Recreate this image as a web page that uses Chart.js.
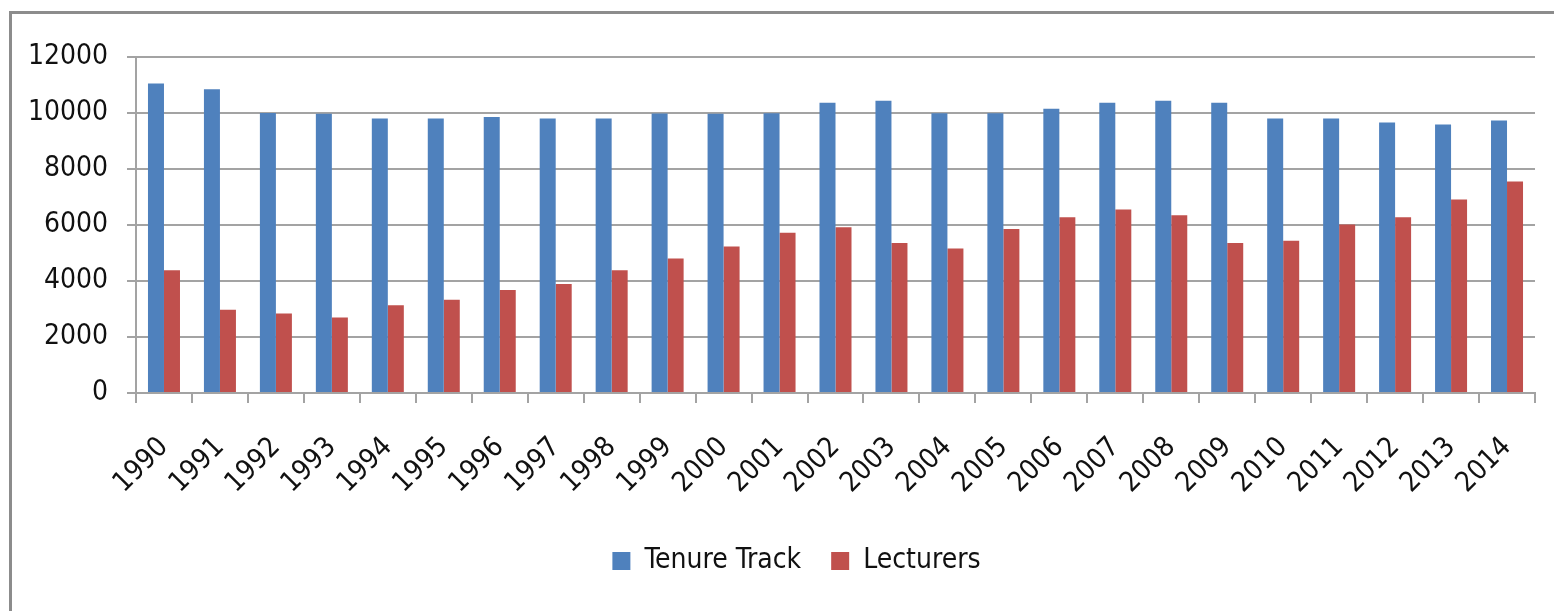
<!doctype html>
<html lang="en">
  <head>
    <meta charset="UTF-8" />
    <title>Tenure Track vs Lecturers</title>
    <style>
      html, body {
        margin: 0;
        padding: 0;
        background: #fff;
      }
      .frame {
        position: absolute;
        left: 9px;
        top: 11px;
        width: 1560px;
        height: 620px;
        border-left: 3px solid #8c8c8c;
        border-top: 3px solid #8c8c8c;
      }
      .wrap {
        position: absolute;
        left: 0;
        top: 0;
        width: 1554px;
        height: 611px;
      }
    </style>
  </head>
  <body>
    <div class="frame"></div>
    <div class="wrap">
      <canvas id="chart" width="1554" height="611"></canvas>
    </div>

    <script src="https://cdn.jsdelivr.net/npm/chart.js"></script>
    <script>
      const years = ['1990', '1991', '1992', '1993', '1994', '1995', '1996', '1997', '1998', '1999',
        '2000', '2001', '2002', '2003', '2004', '2005', '2006', '2007', '2008', '2009',
        '2010', '2011', '2012', '2013', '2014'];
      const tenureTrack = [11050, 10850, 10000, 9970, 9800, 9800, 9860, 9800, 9800, 9980,
        9970, 9990, 10370, 10440, 9990, 9990, 10150, 10370, 10440, 10370,
        9800, 9800, 9660, 9590, 9730];
      const lecturers = [4380, 2970, 2840, 2700, 3130, 3330, 3680, 3890, 4380, 4800,
        5230, 5720, 5920, 5360, 5160, 5860, 6280, 6550, 6350, 5360,
        5440, 6020, 6280, 6910, 7550];
      const yTicks = [0, 2000, 4000, 6000, 8000, 10000, 12000];

      const fontFamily = '"Liberation Sans Narrow", "DejaVu Sans Condensed", sans-serif';
      const gridColor = '#a3a3a3';

      // nudge the legend a bit right of the canvas centre, like the original
      const legendShift = {
        id: 'legendShift',
        afterLayout(chart) {
          chart.legend.left += 29;
          chart.legend.right += 29;
        },
      };

      const ctx = document.getElementById('chart').getContext('2d');
      new Chart(ctx, {
        type: 'bar',
        data: {
          labels: years,
          datasets: [
            {
              label: 'Tenure Track',
              data: tenureTrack,
              backgroundColor: '#4f81bd',
              categoryPercentage: 0.572,
              barPercentage: 1.0,
            },
            {
              label: 'Lecturers',
              data: lecturers,
              backgroundColor: '#c0504d',
              categoryPercentage: 0.572,
              barPercentage: 1.0,
            },
          ],
        },
        plugins: [legendShift],
        options: {
          responsive: false,
          animation: false,
          layout: {
            padding: { top: 57, right: 19, bottom: 26, left: 0 },
          },
          plugins: {
            tooltip: { enabled: false },
            legend: {
              position: 'bottom',
              labels: {
                boxWidth: 18,
                boxHeight: 18,
                padding: 30,
                color: '#111',
                font: { family: fontFamily, size: 28 },
              },
            },
          },
          scales: {
            x: {
              grid: {
                offset: true,
                drawOnChartArea: false,
                drawTicks: true,
                tickLength: 10,
                color: gridColor,
                lineWidth: 2,
              },
              border: { color: gridColor, width: 2 },
              ticks: {
                maxRotation: 45,
                minRotation: 45,
                autoSkip: false,
                padding: 28,
                color: '#111',
                font: { family: fontFamily, size: 28 },
              },
              afterFit: (scale) => {
                scale.height = 124;
                scale.paddingLeft = 0;
                scale.paddingRight = 0;
              },
            },
            y: {
              min: 0,
              max: 12000,
              afterBuildTicks: (scale) => {
                scale.ticks = yTicks.map((v) => ({ value: v }));
              },
              grid: {
                color: gridColor,
                lineWidth: 2,
                drawTicks: true,
                tickLength: 9,
              },
              border: { color: gridColor, width: 2 },
              ticks: {
                padding: 19,
                color: '#111',
                font: { family: fontFamily, size: 28 },
                callback: (value) => String(value),
              },
              afterFit: (scale) => {
                scale.width = 136;
              },
            },
          },
        },
      });
    </script>
  </body>
</html>
